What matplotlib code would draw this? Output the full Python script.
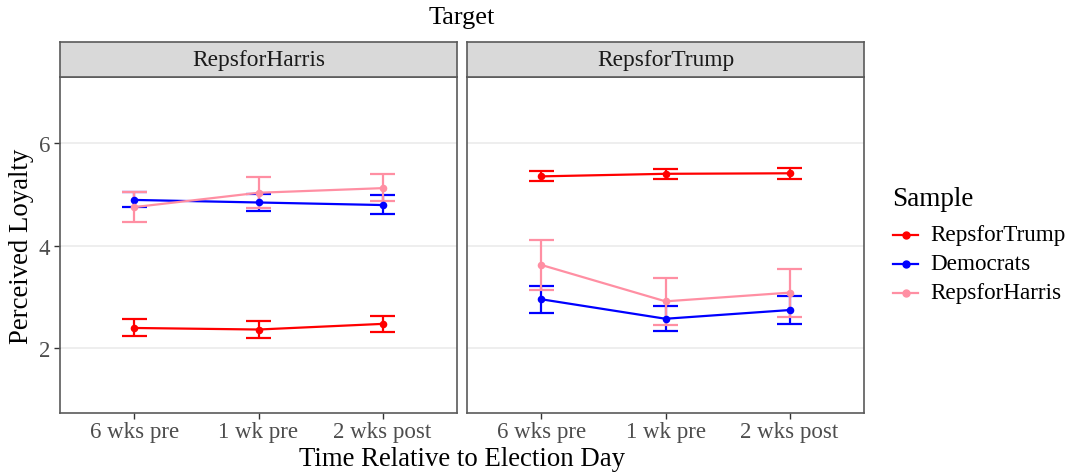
import matplotlib
matplotlib.use("Agg")
import matplotlib.pyplot as plt
from matplotlib.lines import Line2D
import numpy as np

plt.rcParams['font.family'] = ['Liberation Serif', 'DejaVu Serif']

# Categories
time_labels = ["6 wks pre", "1 wk pre", "2 wks post"]
targets = ["RepsforHarris", "RepsforTrump"]
samples = ["RepsforTrump", "Democrats", "RepsforHarris"]
sample_colors = {"RepsforTrump": "#FF0000", "Democrats": "#0000FF", "RepsforHarris": "#FF8FA3"}

# Means (target panel -> sample -> values over time)
harris_means = {
    "RepsforTrump": [2.39, 2.36, 2.47],
    "Democrats": [4.89, 4.84, 4.79],
    "RepsforHarris": [4.75, 5.03, 5.12],
}
harris_low = {
    "RepsforTrump": [2.23, 2.20, 2.31],
    "Democrats": [4.76, 4.68, 4.61],
    "RepsforHarris": [4.45, 4.73, 4.87],
}
harris_high = {
    "RepsforTrump": [2.56, 2.52, 2.63],
    "Democrats": [5.04, 5.01, 4.98],
    "RepsforHarris": [5.05, 5.33, 5.39],
}

trump_means = {
    "RepsforTrump": [5.35, 5.40, 5.41],
    "Democrats": [2.95, 2.57, 2.74],
    "RepsforHarris": [3.62, 2.91, 3.08],
}
trump_low = {
    "RepsforTrump": [5.25, 5.30, 5.29],
    "Democrats": [2.69, 2.33, 2.47],
    "RepsforHarris": [3.13, 2.44, 2.61],
}
trump_high = {
    "RepsforTrump": [5.45, 5.50, 5.52],
    "Democrats": [3.21, 2.82, 3.01],
    "RepsforHarris": [4.10, 3.37, 3.55],
}

panel_data = {
    "RepsforHarris": (harris_means, harris_low, harris_high),
    "RepsforTrump": (trump_means, trump_low, trump_high),
}

W, H = 1073, 477
fig = plt.figure(figsize=(W / 100, H / 100), dpi=100)
fig.patch.set_facecolor("white")

def fx(px):
    return px / W

def fy(py):
    return 1 - py / H

panel_lefts = [60, 467]
panel_w = 397
panel_top, panel_bot = 78, 414
strip_top = 43

grid_col = "#EBEBEB"
frame_col = "#5A5A5A"
tick_col = "#4D4D4D"

x = np.arange(1, len(time_labels) + 1)
cap_half = 0.1

for i, target in enumerate(targets):
    left = panel_lefts[i]
    ax = fig.add_axes([fx(left), fy(panel_bot), fx(panel_w), (panel_bot - panel_top) / H])
    ax.set_xlim(0.4, 3.6)
    ax.set_ylim(0.73, 7.29)
    ax.set_yticks([2, 4, 6])
    ax.set_yticks([1, 3, 5, 7], minor=True)
    ax.grid(True, which="major", axis="y", color=grid_col, lw=1.2, zorder=0)
    ax.set_axisbelow(True)
    ax.set_xticks(x)
    ax.set_xticklabels(time_labels, fontsize=16.5, color=tick_col)
    ax.tick_params(axis="x", length=4, width=1, color="#333333", pad=2)
    ax.tick_params(axis="y", which="major", length=4, width=1, color="#333333", labelsize=16.5,
                   labelcolor=tick_col, pad=3)
    ax.tick_params(axis="y", which="minor", length=0)
    if i > 0:
        ax.tick_params(axis="y", labelleft=False, length=0)
    for s in ax.spines.values():
        s.set_color(frame_col)
        s.set_linewidth(1.2)

    means, low, high = panel_data[target]
    for smp in samples:
        c = sample_colors[smp]
        m = np.array(means[smp])
        lo = np.array(low[smp])
        hi = np.array(high[smp])
        ax.plot(x, m, color=c, lw=1.6, zorder=3)
        ax.vlines(x, lo, hi, color=c, lw=1.6, zorder=3)
        ax.hlines(lo, x - cap_half, x + cap_half, color=c, lw=1.6, zorder=3)
        ax.hlines(hi, x - cap_half, x + cap_half, color=c, lw=1.6, zorder=3)
        ax.scatter(x, m, s=30, color=c, zorder=4, linewidths=0)

    # facet strip
    sax = fig.add_axes([fx(left), fy(panel_top), fx(panel_w), (panel_top - strip_top) / H])
    sax.set_facecolor("#D9D9D9")
    sax.set_xticks([])
    sax.set_yticks([])
    for s in sax.spines.values():
        s.set_color(frame_col)
        s.set_linewidth(1.2)
    sax.text(0.5, 0.5, target, ha="center", va="center", fontsize=16.8, color="#1A1A1A",
             transform=sax.transAxes)

fig.text(fx(462), fy(18), "Target", ha="center", va="center", fontsize=19, color="black")
fig.text(fx(462), fy(460), "Time Relative to Election Day", ha="center", va="center",
         fontsize=19.3, color="black")
fig.text(fx(22), fy(246), "Perceived Loyalty", ha="center", va="center", rotation=90,
         fontsize=19.3, color="black")

# legend
fig.text(fx(892), fy(200), "Sample", ha="left", va="center", fontsize=19.5, color="black")
leg_y = [236, 265, 294]
for smp, yy in zip(samples, leg_y):
    c = sample_colors[smp]
    fig.add_artist(Line2D([fx(893), fx(918)], [fy(yy), fy(yy)], color=c, lw=1.6,
                          transform=fig.transFigure))
    fig.add_artist(Line2D([fx(905.5)], [fy(yy)], color=c, marker="o", ms=5, lw=0,
                          transform=fig.transFigure))
    fig.text(fx(930), fy(yy), smp, ha="left", va="center", fontsize=16.7, color="black")

fig.savefig("out.png", dpi=100, facecolor="white")
